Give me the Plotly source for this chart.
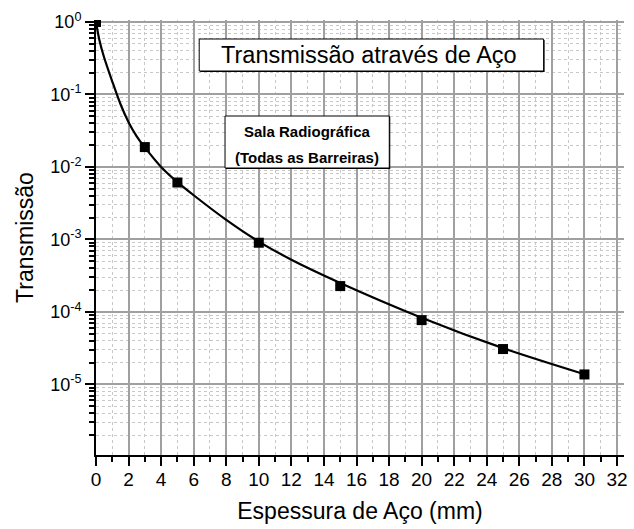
import plotly.graph_objects as go

# Measured data points
thickness_mm = [0, 3, 5, 10, 15, 20, 25, 30]
transmission = [1.0, 0.0188, 0.0061, 0.0009, 0.000227, 0.000077, 0.0000307, 0.0000137]

# Fitted curve
curve_x = [0, 0.2, 0.5, 1.0, 1.5, 2.0, 2.5, 3.0, 4.0, 5.0, 6.0, 8.0, 10, 12, 15, 20, 25, 30]
curve_y = [1.0, 0.575, 0.324, 0.151, 0.0740, 0.0415, 0.0265, 0.0186, 0.0100, 0.00617,
           0.00407, 0.00186, 0.000933, 0.000525, 0.000251, 0.0000832, 0.0000316, 0.0000138]

x_ticks = list(range(0, 33, 2))
y_tickvals = [1, 0.1, 0.01, 0.001, 0.0001, 0.00001]
y_ticktext = ["10<sup>0</sup>", "10<sup>-1</sup>", "10<sup>-2</sup>", "10<sup>-3</sup>",
              "10<sup>-4</sup>", "10<sup>-5</sup>"]
y_minor = [m * 10.0 ** e for e in range(-6, 0) for m in range(2, 10)]

FONT = "Arial, Liberation Sans, sans-serif"

fig = go.Figure()
fig.add_trace(go.Scatter(x=curve_x, y=curve_y, mode="lines",
                         line=dict(color="black", width=2.2, shape="spline", smoothing=0.8),
                         hoverinfo="skip", showlegend=False))
fig.add_trace(go.Scatter(x=thickness_mm, y=transmission, mode="markers",
                         marker=dict(symbol="square", size=10, color="black"),
                         showlegend=False))

# plot area in pixels: x 96..628, y 20..455
L, R, T, B = 96, 628, 20, 455
W, H = R - L, B - T

def px(x):
    return (x - L) / W

def py(y):
    return (B - y) / H

shapes = [
    dict(type="rect", xref="paper", yref="paper", x0=px(201), x1=px(548), y0=py(72), y1=py(40),
         line=dict(color="black", width=0), fillcolor="black"),
    dict(type="rect", xref="paper", yref="paper", x0=px(200), x1=px(547), y0=py(71), y1=py(39),
         line=dict(color="black", width=1), fillcolor="white"),
    dict(type="rect", xref="paper", yref="paper", x0=px(227), x1=px(392.5), y0=py(169), y1=py(117),
         line=dict(color="black", width=0), fillcolor="black"),
    dict(type="rect", xref="paper", yref="paper", x0=px(226), x1=px(391.5), y0=py(168), y1=py(116),
         line=dict(color="black", width=1), fillcolor="white"),
]

annotations = [
    dict(text="Transmissão através de Aço", xref="paper", yref="paper", x=px(371), y=py(55.5),
         showarrow=False, font=dict(family=FONT, size=23.5, color="black"),
         xanchor="center", yanchor="middle"),
    dict(text="<b>Sala Radiográfica</b>", xref="paper", yref="paper", x=px(309), y=py(131),
         showarrow=False, font=dict(family=FONT, size=15, color="black"),
         xanchor="center", yanchor="middle"),
    dict(text="<b>(Todas as Barreiras)</b>", xref="paper", yref="paper", x=px(309), y=py(157),
         showarrow=False, font=dict(family=FONT, size=15, color="black"),
         xanchor="center", yanchor="middle"),
]

fig.update_layout(
    width=634, height=529,
    margin=dict(l=L, r=634 - R, t=T, b=529 - B, pad=0),
    paper_bgcolor="white", plot_bgcolor="white",
    font=dict(family=FONT, size=18, color="black"),
    shapes=shapes, annotations=annotations,
    xaxis=dict(
        range=[0, 32.43], tickvals=x_ticks, ticks="outside", ticklen=9, tickwidth=2,
        tickcolor="black", showline=True, linecolor="black", linewidth=2,
        showgrid=True, gridcolor="#a0a0a0", gridwidth=1.5, zeroline=False,
        tickfont=dict(size=19, color="black"), ticklabelstandoff=-3,
        title=dict(text="Espessura de Aço (mm)", font=dict(size=23, color="black"), standoff=14),
        minor=dict(dtick=1, tick0=0, ticks="outside", ticklen=5, tickwidth=2, tickcolor="black",
                   showgrid=True, gridcolor="#c8c8c8", griddash="dot", gridwidth=1),
    ),
    yaxis=dict(
        type="log", range=[-5.975, 0.028], tickmode="array", tickvals=y_tickvals,
        ticktext=y_ticktext, ticks="outside", ticklen=9, tickwidth=2, tickcolor="black",
        showline=True, linecolor="black", linewidth=2,
        showgrid=True, gridcolor="#a0a0a0", gridwidth=1.5, zeroline=False,
        tickfont=dict(size=18, color="black"),
        title=dict(text="Transmissão", font=dict(size=23, color="black"), standoff=10),
        minor=dict(tickmode="array", tickvals=y_minor, ticks="outside", ticklen=5, tickwidth=1.5,
                   tickcolor="black", showgrid=True, gridcolor="#c8c8c8", griddash="dot",
                   gridwidth=1),
    ),
)

fig.write_html("out.html", config={"displayModeBar": False},
               post_script="document.body.style.margin='0';document.body.style.overflow='hidden';")
